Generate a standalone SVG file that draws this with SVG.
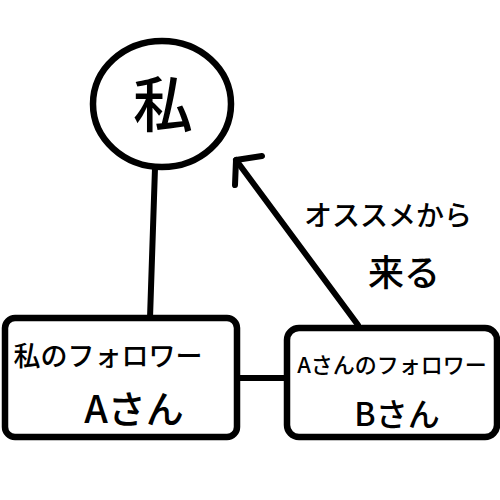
<svg xmlns="http://www.w3.org/2000/svg" width="500" height="500" viewBox="0 0 500 500">
<style>
.s{fill:none;stroke:#000;stroke-width:6;stroke-linecap:round;stroke-linejoin:round}
.b{fill:#fff;stroke:#000;stroke-width:6.5}
text{font-family:"Noto Sans CJK JP","Noto Sans",sans-serif;fill:#000;text-anchor:middle;font-weight:500}
</style>
<rect width="500" height="500" fill="#fff"/>
<g id="connectors">
<path class="s" d="M155,168 L150,318"/>
<path class="s" d="M238,378 L287,378"/>
<path class="s" d="M358,325 L236,160"/>
<path class="s" d="M262,156 L236,160 L235,185"/>
</g>
<g id="me">
<ellipse class="b" cx="162" cy="104" rx="69" ry="63"/>
<text x="163" y="127" font-size="60">私</text>
</g>
<g id="followerA">
<rect class="b" x="5" y="318" width="232" height="119" rx="10"/>
<text x="108" y="366" font-size="27">私のフォロワー</text>
<text x="134" y="423" font-size="38">Aさん</text>
</g>
<g id="followerB">
<rect class="b" x="287" y="328" width="210" height="109" rx="12"/>
<text x="392" y="373" font-size="22">Aさんのフォロワー</text>
<text x="397" y="426" font-size="32">Bさん</text>
</g>
<g id="label">
<text x="388" y="226" font-size="28">オススメから</text>
<text x="404" y="286" font-size="36" font-weight="700">来る</text>
</g>
</svg>
